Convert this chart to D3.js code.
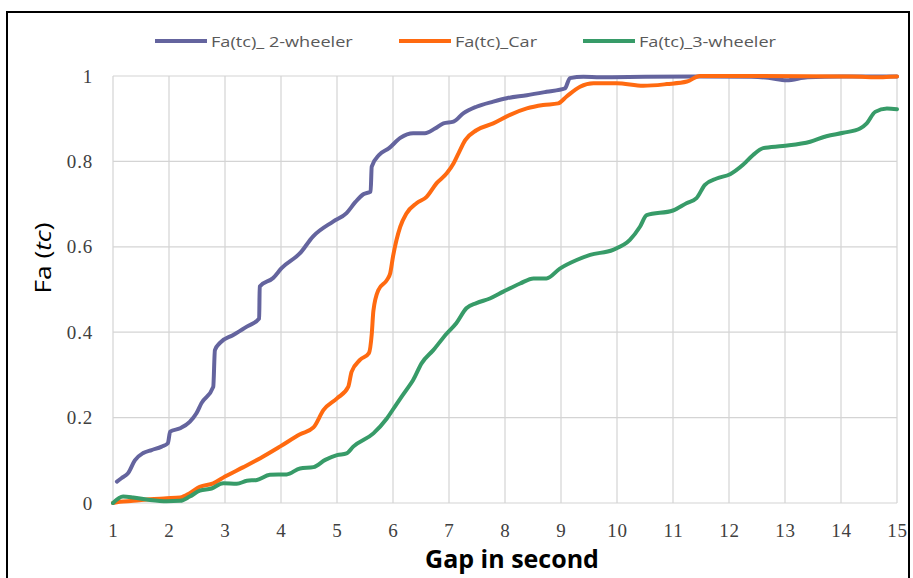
<!DOCTYPE html>
<html>
<head>
<meta charset="utf-8">
<script src="https://cdn.jsdelivr.net/npm/d3@7"></script>
<style>
  body { margin: 0; background: #fff; }
  svg { display: block; }
</style>
</head>
<body>
<div id="chart"></div>
<script>
// gap in seconds vs cumulative acceptance probability
var xTicks = [1, 2, 3, 4, 5, 6, 7, 8, 9, 10, 11, 12, 13, 14, 15];
var yTicks = [0, 0.2, 0.4, 0.6, 0.8, 1];
var seriesNames = ["Fa(tc)_ 2-wheeler", "Fa(tc)_Car", "Fa(tc)_3-wheeler"];
var seriesColors = ["#64649e", "#ff6a10", "#379b68"];

var twoWheeler = [
  [1.07, 0.05], [1.15, 0.058], [1.27, 0.07], [1.39, 0.10], [1.54, 0.117], [1.69, 0.124],
  [1.87, 0.132], [1.98, 0.14], [2.02, 0.167], [2.2, 0.175], [2.37, 0.19], [2.49, 0.21],
  [2.58, 0.234], [2.79, 0.272], [2.82, 0.358], [2.91, 0.375], [3.14, 0.393], [3.39, 0.413],
  [3.61, 0.432], [3.62, 0.507], [3.86, 0.527], [4.01, 0.55], [4.34, 0.585], [4.57, 0.624],
  [4.93, 0.659], [5.17, 0.679], [5.33, 0.705], [5.47, 0.723], [5.6, 0.729], [5.62, 0.788],
  [5.75, 0.815], [5.93, 0.831], [6.13, 0.855], [6.36, 0.866], [6.57, 0.866], [6.75, 0.877],
  [6.9, 0.889], [7.08, 0.893], [7.26, 0.913], [7.49, 0.928], [7.79, 0.94], [8.03, 0.948],
  [8.39, 0.955], [8.74, 0.963], [9.07, 0.971], [9.16, 0.995], [9.4, 0.998], [9.7, 0.997],
  [10.5, 0.998], [11.5, 0.999], [12.4, 0.998], [12.7, 0.996], [13.03, 0.99], [13.4, 0.997],
  [14.0, 0.999], [15.0, 0.999]
];

var car = [
  [1.0, 0.0], [1.12, 0.003], [1.36, 0.005], [1.66, 0.009], [1.96, 0.011], [2.2, 0.013],
  [2.37, 0.023], [2.55, 0.038], [2.79, 0.046], [3.0, 0.062], [3.33, 0.084], [3.63, 0.105],
  [3.98, 0.132], [4.34, 0.161], [4.58, 0.177], [4.76, 0.218], [5.0, 0.245], [5.2, 0.272],
  [5.26, 0.307], [5.41, 0.335], [5.57, 0.351], [5.62, 0.395], [5.65, 0.45], [5.74, 0.499],
  [5.89, 0.522], [5.95, 0.538], [6.0, 0.577], [6.13, 0.647], [6.24, 0.678], [6.42, 0.702],
  [6.6, 0.717], [6.78, 0.749], [6.96, 0.772], [7.08, 0.795], [7.17, 0.819], [7.29, 0.85],
  [7.49, 0.873], [7.79, 0.889], [8.09, 0.909], [8.39, 0.924], [8.68, 0.932], [8.95, 0.936],
  [9.1, 0.952], [9.34, 0.975], [9.58, 0.983], [9.99, 0.983], [10.47, 0.977], [10.89, 0.981],
  [11.25, 0.987], [11.48, 1.0], [12.5, 1.0], [14.2, 0.999], [14.57, 0.997], [15.0, 0.999]
];

var threeWheeler = [
  [1.0, 0.0], [1.18, 0.015], [1.36, 0.013], [1.66, 0.007], [1.96, 0.004], [2.2, 0.005],
  [2.37, 0.015], [2.55, 0.029], [2.76, 0.034], [2.97, 0.046], [3.21, 0.045], [3.39, 0.052],
  [3.57, 0.054], [3.8, 0.066], [4.1, 0.067], [4.34, 0.081], [4.58, 0.084], [4.79, 0.101],
  [5.0, 0.112], [5.17, 0.116], [5.29, 0.132], [5.65, 0.163], [5.89, 0.198], [6.07, 0.233],
  [6.24, 0.265], [6.36, 0.288], [6.51, 0.327], [6.72, 0.358], [6.96, 0.397], [7.13, 0.421],
  [7.31, 0.456], [7.49, 0.468], [7.73, 0.479], [7.97, 0.495], [8.27, 0.514], [8.51, 0.526],
  [8.74, 0.526], [8.98, 0.549], [9.28, 0.569], [9.52, 0.581], [9.93, 0.593], [10.23, 0.616],
  [10.41, 0.647], [10.53, 0.674], [11.0, 0.685], [11.24, 0.702], [11.42, 0.714], [11.57, 0.745],
  [11.78, 0.76], [12.02, 0.77], [12.25, 0.792], [12.43, 0.815], [12.61, 0.831], [12.96, 0.836],
  [13.45, 0.846], [13.74, 0.859], [14.04, 0.867], [14.34, 0.877], [14.46, 0.889], [14.61, 0.916],
  [14.82, 0.924], [15.0, 0.922]
];

var allSeries = [twoWheeler, car, threeWheeler];

var width = 913;
var height = 578;
var plotLeft = 113, plotRight = 897, plotTop = 76, plotBottom = 503;

var svg = d3.select("#chart")
    .append("svg")
    .attr("width", width)
    .attr("height", height);

var xScale = d3.scaleLinear().domain([1, 15]).range([plotLeft, plotRight]);
var yScale = d3.scaleLinear().domain([0, 1]).range([plotBottom, plotTop]);

// outer frame
svg.append("rect")
    .attr("x", 7)
    .attr("y", 12)
    .attr("width", 902)
    .attr("height", 600)
    .attr("fill", "none")
    .attr("stroke", "#000")
    .attr("stroke-width", 2);

// grid lines
svg.append("g")
    .selectAll("line")
    .data(xTicks)
    .enter()
    .append("line")
    .attr("x1", (d) => xScale(d))
    .attr("x2", (d) => xScale(d))
    .attr("y1", plotTop)
    .attr("y2", plotBottom)
    .attr("stroke", "#d4d4d4")
    .attr("stroke-width", 1.2);

svg.append("g")
    .selectAll("line")
    .data(yTicks)
    .enter()
    .append("line")
    .attr("x1", plotLeft)
    .attr("x2", plotRight)
    .attr("y1", (d) => yScale(d))
    .attr("y2", (d) => yScale(d))
    .attr("stroke", "#d4d4d4")
    .attr("stroke-width", 1.2);

// axes, only labels
var xAxis = d3.axisBottom(xScale).tickValues(xTicks).tickSize(0);
var gx = svg.append("g")
    .attr("transform", "translate(0," + plotBottom + ")")
    .call(xAxis);
gx.select(".domain").remove();
gx.selectAll("text")
    .attr("y", 34)
    .attr("dy", 0)
    .attr("font-family", "Liberation Serif, serif")
    .attr("font-size", 19)
    .attr("letter-spacing", 0.8)
    .attr("fill", "#404040");

var yAxis = d3.axisLeft(yScale).tickValues(yTicks).tickSize(0).tickPadding(20)
    .tickFormat((d) => d3.format("")(d));
var gy = svg.append("g")
    .attr("transform", "translate(" + plotLeft + ",0)")
    .call(yAxis);
gy.select(".domain").remove();
gy.selectAll("text")
    .attr("font-family", "Liberation Serif, serif")
    .attr("font-size", 19)
    .attr("letter-spacing", 0.8)
    .attr("fill", "#404040");

// curves
var line = d3.line()
    .curve(d3.curveMonotoneX)
    .x((d) => xScale(d[0]))
    .y((d) => yScale(d[1]));

svg.append("g")
    .selectAll("path")
    .data(allSeries)
    .enter()
    .append("path")
    .attr("d", line)
    .attr("fill", "none")
    .attr("stroke", (d, i) => seriesColors[i])
    .attr("stroke-width", 4)
    .attr("stroke-linejoin", "round")
    .attr("stroke-linecap", "round");

// legend
var legendX = [155, 399, 583];
var legend = svg.append("g")
    .selectAll("g")
    .data(seriesNames)
    .enter()
    .append("g")
    .attr("transform", (d, i) => "translate(" + legendX[i] + ",41)");

legend.append("line")
    .attr("x1", 0)
    .attr("x2", 52)
    .attr("stroke", (d, i) => seriesColors[i])
    .attr("stroke-width", 4);

legend.append("text")
    .attr("transform", "translate(56,6) scale(1.25,1)")
    .attr("font-family", "Open Sans, sans-serif")
    .attr("font-size", 14.5)
    .attr("fill", "#595959")
    .text((d) => d);

// axis titles
svg.append("text")
    .attr("x", 512)
    .attr("y", 568)
    .attr("text-anchor", "middle")
    .attr("font-family", "Open Sans, sans-serif")
    .attr("font-weight", "bold")
    .attr("font-size", 25)
    .attr("fill", "#000")
    .text("Gap in second");

var yTitle = svg.append("text")
    .attr("transform", "translate(51,258) rotate(-90) scale(1.25,1)")
    .attr("text-anchor", "middle")
    .attr("font-family", "Open Sans, sans-serif")
    .attr("font-size", 21)
    .attr("fill", "#000");
yTitle.append("tspan").text("Fa (");
yTitle.append("tspan").attr("font-style", "italic").text("tc");
yTitle.append("tspan").text(")");
</script>
</body>
</html>
